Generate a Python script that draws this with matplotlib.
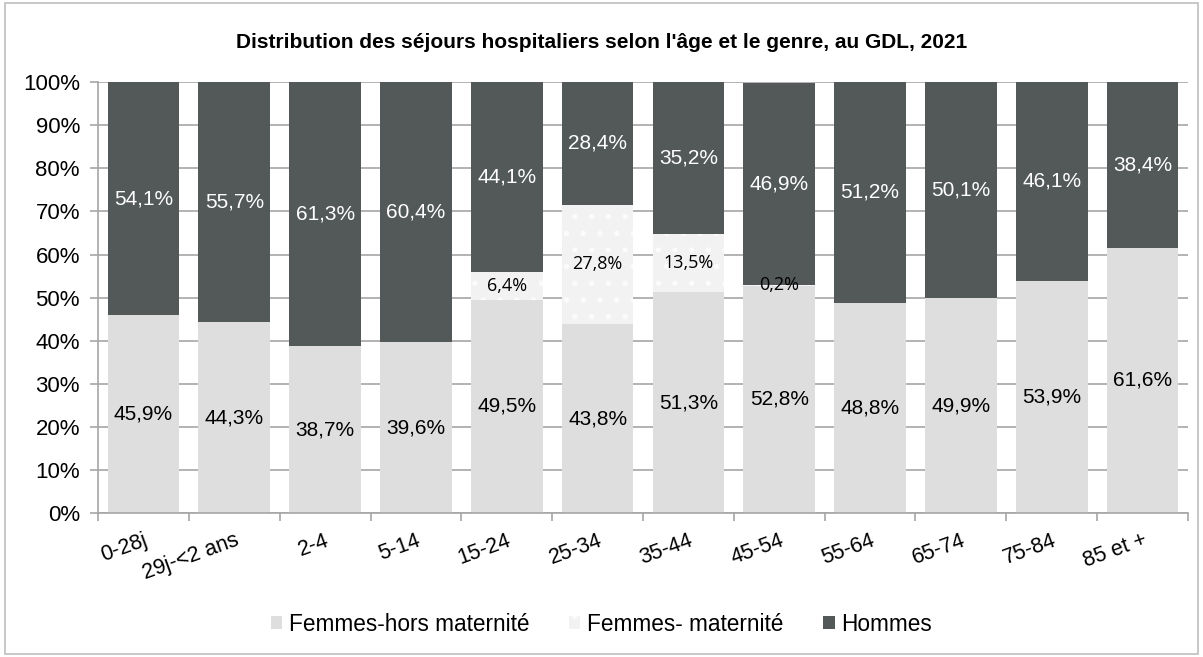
import matplotlib.pyplot as plt
import numpy as np
from matplotlib.patches import Rectangle

plt.rcParams['font.family'] = ['Liberation Sans', 'DejaVu Sans']
plt.rcParams['hatch.linewidth'] = 1.5

# données
categories = ['0-28j', '29j-<2 ans', '2-4', '5-14', '15-24', '25-34', '35-44',
              '45-54', '55-64', '65-74', '75-84', '85 et +']
femmes_hors = [45.9, 44.3, 38.7, 39.6, 49.5, 43.8, 51.3, 52.8, 48.8, 49.9, 53.9, 61.6]
femmes_mat = [0, 0, 0, 0, 6.4, 27.8, 13.5, 0.2, 0, 0, 0, 0]
hommes = [54.1, 55.7, 61.3, 60.4, 44.1, 28.4, 35.2, 46.9, 51.2, 50.1, 46.1, 38.4]

c_hors = '#dedede'
c_mat = '#f2f2f2'
c_hom = '#535858'
grid_c = '#a6a6a6'

def fmt(v):
    return f"{v:.1f}%".replace('.', ',')

fig = plt.figure(figsize=(12.03, 6.57), dpi=100)
ax = fig.add_axes([0.0815, 0.219, 0.906, 0.656])

x = np.arange(len(categories))
w = 0.79
hors = np.array(femmes_hors)
mat = np.array(femmes_mat)
hom = np.array(hommes)

ax.bar(x, hors, w, color=c_hors, label='Femmes-hors maternité', zorder=2)
ax.bar(x, mat, w, bottom=hors, color=c_mat, edgecolor='#fbfbfb', hatch='.',
       linewidth=0, label='Femmes- maternité', zorder=2)
ax.bar(x, hom, w, bottom=hors + mat, color=c_hom, label='Hommes', zorder=2)

# étiquettes (centrées dans chaque segment)
for i in range(len(x)):
    ax.text(x[i], hors[i] / 2, fmt(hors[i]), ha='center', va='center',
            fontsize=15, color='black', zorder=3)
    if mat[i] > 0:
        ax.text(x[i], hors[i] + mat[i] / 2, fmt(mat[i]), ha='center', va='center',
                fontsize=13, family=['Open Sans', 'DejaVu Sans'], color='black', zorder=3)
    ax.text(x[i], hors[i] + mat[i] + hom[i] / 2, fmt(hom[i]), ha='center', va='center',
            fontsize=15, color='white', zorder=3)

ax.set_ylim(0, 100)
ax.set_xlim(-0.5, len(x) - 0.5)
ax.set_yticks(range(0, 101, 10))
ax.set_yticklabels([f"{v}%" for v in range(0, 101, 10)], fontsize=16)
ax.yaxis.grid(True, color=grid_c, linewidth=1.2, zorder=0)
ax.set_axisbelow(True)

ax.set_xticks(np.arange(-0.5, len(x), 1), minor=False)
ax.set_xticklabels([])
ax.set_xticks(x, minor=True)
ax.set_xticklabels(categories, minor=True, rotation=20, ha='right',
                   rotation_mode='anchor', fontsize=15.5)
ax.tick_params(axis='x', which='minor', length=0, pad=12)
ax.tick_params(axis='x', which='major', length=6, color=grid_c, width=1.2)
ax.tick_params(axis='y', length=6, color=grid_c, width=1.2, pad=7)

for s in ['top', 'right']:
    ax.spines[s].set_visible(False)
for s in ['left', 'bottom']:
    ax.spines[s].set_color(grid_c)
    ax.spines[s].set_linewidth(1.2)

fig.text(0.5, 0.935, "Distribution des séjours hospitaliers selon l'âge et le genre, au GDL, 2021",
         ha='center', va='center', fontsize=15, fontweight='bold')

fig.legend(loc='center', bbox_to_anchor=(0.5, 0.05), ncol=3, frameon=False,
           fontsize=16.3, handlelength=0.5, handleheight=0.5, handletextpad=0.3,
           columnspacing=1.75)

fig.patches.append(Rectangle((0.004, 0.004), 0.992, 0.992, transform=fig.transFigure,
                             fill=False, edgecolor='#bfbfbf', linewidth=1.2))

fig.savefig('out.png', dpi=100)
